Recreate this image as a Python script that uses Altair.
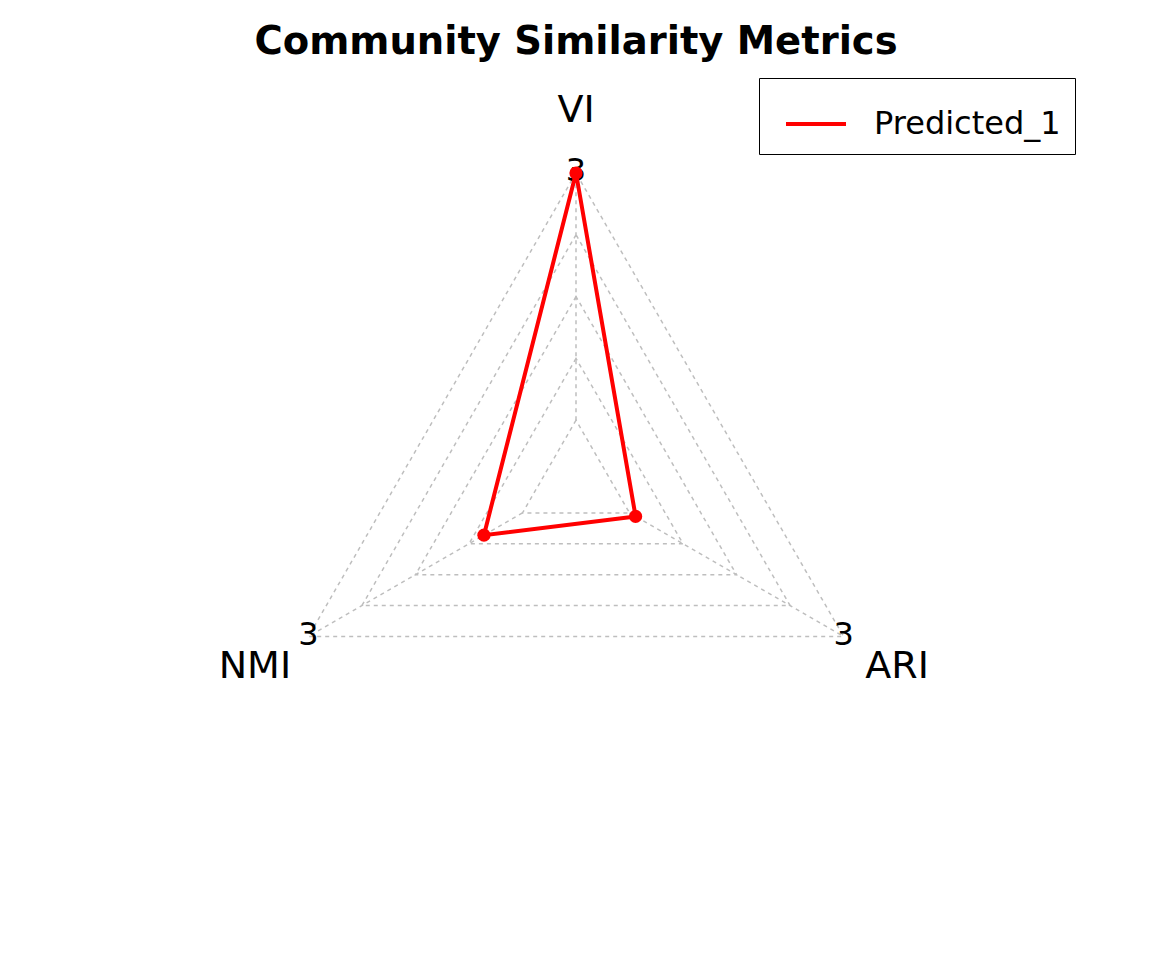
import altair as alt
import pandas as pd

# ---- data ----
metrics = ["VI", "NMI", "ARI"]          # axis order (counter-clockwise from top)
predicted_1 = [3.0, 0.54, 0.085]        # series values
axis_max = [3, 3, 3]
axis_min = [0, 0, 0]
max_labels = ["3", "3", "3"]
series_name = "Predicted_1"
segments = 4

n = len(metrics)
df = pd.DataFrame({
    "metric": metrics,
    "idx": list(range(n)),
    "value": predicted_1,
    "vmax": axis_max,
    "vmin": axis_min,
    "maxlab": max_labels,
    "series": [series_name] * n,
})
grid = pd.DataFrame([
    {"level": k, "idx": i} for k in range(segments + 1) for i in range(n)
])

theta = f"PI/2 + 2*PI*datum.idx/{n}"
inner = f"1/({segments}+1)"

W, H, TOP = 1130, 850, 60
CX, CY, R = 568, 481 - 8 - TOP, 309
xs = alt.Scale(domain=[-CX / R, (W - CX) / R], nice=False, zero=False)
ys = alt.Scale(domain=[-(H - CY) / R, CY / R], nice=False, zero=False)
X = lambda f: alt.X(f"{f}:Q", scale=xs, axis=None)
Y = lambda f: alt.Y(f"{f}:Q", scale=ys, axis=None)

grey = "#BEBEBE"
font = "DejaVu Sans"

# grid triangles
rings = alt.Chart(grid).transform_calculate(
    r=f"(datum.level + 1)/({segments}+1)",
    x=f"datum.r*cos({theta})",
    y=f"datum.r*sin({theta})",
).mark_line(interpolate="linear-closed", color=grey, strokeWidth=1.5,
            strokeDash=[4, 4]).encode(
    x=X("x"), y=Y("y"), detail="level:N", order="idx:Q"
)

# spokes
spokes = alt.Chart(df).transform_calculate(
    x=f"{inner}*cos({theta})",
    y=f"{inner}*sin({theta})",
    x2=f"cos({theta})",
    y2=f"sin({theta})",
).mark_rule(color=grey, strokeWidth=1.5, strokeDash=[4, 4]).encode(
    x=X("x"), y=Y("y"), x2="x2:Q", y2="y2:Q"
)

base = alt.Chart(df).transform_calculate(
    r=f"(1 + {segments}*(datum.value - datum.vmin)/(datum.vmax - datum.vmin))/({segments}+1)",
    x=f"datum.r*cos({theta})",
    y=f"datum.r*sin({theta})",
)

line = base.mark_line(interpolate="linear-closed", strokeWidth=4).encode(
    x=X("x"), y=Y("y"), order="idx:Q",
    color=alt.Color("series:N", scale=alt.Scale(range=["#FF0000"]),
                    legend=alt.Legend(
                        title=None, orient="none", legendX=751, legendY=77 - 8 - TOP,
                        symbolType="stroke", symbolSize=3600, symbolStrokeWidth=4,
                        strokeColor="black", fillColor="white", padding=14,
                        symbolOffset=11, labelOffset=26, labelFontSize=32,
                        labelLimit=400, labelFont=font, labelColor="black")),
)
points = base.mark_circle(size=175, opacity=1, color="#FF0000").encode(
    x=X("x"), y=Y("y")
)

# axis names at 1.2 radius
names = alt.Chart(df).transform_calculate(
    x=f"1.2*cos({theta})", y=f"1.2*sin({theta})"
).mark_text(fontSize=38, font=font, color="black", align="center",
            baseline="middle").encode(x=X("x"), y=Y("y"), text="metric:N")

# max labels at outer vertices
maxl = alt.Chart(df).transform_calculate(
    x=f"cos({theta})", y=f"sin({theta})"
).mark_text(fontSize=32, font=font, color="black", align="center",
            baseline="middle", dy=-2).encode(x=X("x"), y=Y("y"), text="maxlab:N")

chart = alt.layer(rings, spokes, maxl, line, points, names).properties(
    width=W, height=H,
    padding={"top": 14, "left": 0, "right": 0, "bottom": 0},
    title=alt.TitleParams("Community Similarity Metrics", fontSize=38.5,
                          fontWeight="bold", font=font, anchor="middle",
                          frame="group", offset=7, dx=3, color="black"),
).configure_view(stroke=None)

chart.save("out.html", embed_options={"renderer": "svg", "actions": False})
